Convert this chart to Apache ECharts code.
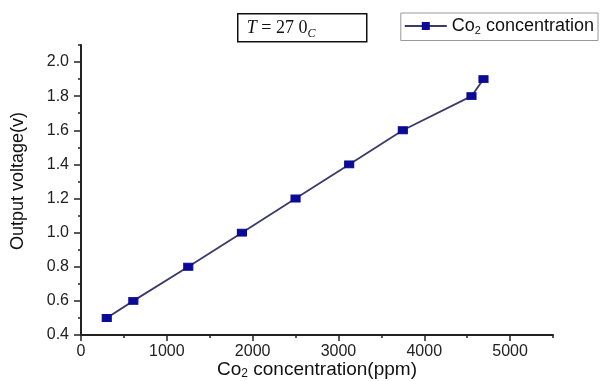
<!DOCTYPE html>
<html><head><meta charset="utf-8">
<script src="https://cdn.jsdelivr.net/npm/echarts@6/dist/echarts.min.js"></script>
<style>html,body{margin:0;padding:0;background:#fff}#c{width:601px;height:381px}</style>
</head><body><div id="c"></div>
<script>
const co2 = [300, 610, 1250, 1875, 2500, 3125, 3750, 4550, 4690];
const voltage = [0.5, 0.6, 0.8, 1.0, 1.2, 1.4, 1.6, 1.8, 1.9];
const seriesName = 'Co2 concentration';
const xTicks = [0, 1000, 2000, 3000, 4000, 5000];
const xMinorTicks = [500, 1500, 2500, 3500, 4500, 5500];
const yTicks = [0.4, 0.6, 0.8, 1.0, 1.2, 1.4, 1.6, 1.8, 2.0];
const yMinorTicks = [0.5, 0.7, 0.9, 1.1, 1.3, 1.5, 1.7, 1.9, 2.1];

const chart = echarts.init(document.getElementById('c'), null, {renderer: 'canvas'});
const font = 'Liberation Sans, Arial, sans-serif';
const tickColor = '#222';
chart.setOption({
  animation: false,
  backgroundColor: '#fff',
  grid: {left: 81, right: 48, top: 45, bottom: 46, outerBoundsMode: 'none'},
  legend: {
    show: true, right: 3, top: 13,
    data: [seriesName],
    borderColor: '#999', borderWidth: 1, padding: [4, 4, 4, 3],
    itemWidth: 42, itemHeight: 10, itemGap: 4,
    formatter: () => 'Co{sub|2} concentration',
    textStyle: {fontFamily: font, fontSize: 18, color: '#111',
      rich: {sub: {fontSize: 11, padding: [10, 0, 0, 0], fontFamily: font, color: '#111'}}}
  },
  xAxis: [{
    type: 'value', min: 0, max: 5500, position: 'bottom',
    axisLine: {show: true, onZero: false, lineStyle: {color: tickColor, width: 2}},
    splitLine: {show: false},
    axisTick: {show: true, customValues: xTicks, length: 6, lineStyle: {color: tickColor, width: 1.5}},
    axisLabel: {customValues: xTicks, formatter: v => String(v), color: '#222', fontFamily: font, fontSize: 16, margin: 9},
    name: 'Co{sub|2} concentration(ppm)', nameLocation: 'middle', nameGap: 25, nameMoveOverlap: false,
    nameTextStyle: {fontFamily: font, fontSize: 19, color: '#111', verticalAlign: 'top',
      rich: {sub: {fontSize: 12, padding: [8, 0, 0, 0], fontFamily: font, color: '#111'}}}
  }, {
    type: 'value', min: 0, max: 5500, position: 'bottom', offset: 0,
    axisLine: {show: false},
    splitLine: {show: false},
    axisTick: {show: true, customValues: xMinorTicks, length: 3, lineStyle: {color: tickColor, width: 1.5}},
    axisLabel: {show: false}
  }],
  yAxis: [{
    type: 'value', min: 0.4, max: 2.1, position: 'left',
    axisLine: {show: true, onZero: false, lineStyle: {color: tickColor, width: 2}},
    splitLine: {show: false},
    axisTick: {show: true, customValues: yTicks, length: 7, lineStyle: {color: tickColor, width: 1.5}},
    axisLabel: {customValues: yTicks, formatter: v => v.toFixed(1), color: '#222', fontFamily: font, fontSize: 16, margin: 12},
    name: 'Output voltage(v)', nameLocation: 'middle', nameGap: 54, nameMoveOverlap: false,
    nameTextStyle: {fontFamily: font, fontSize: 18, color: '#111', padding: [0, 0, 0, 18]}
  }, {
    type: 'value', min: 0.4, max: 2.1, position: 'left', offset: 0,
    axisLine: {show: false},
    splitLine: {show: false},
    axisTick: {show: true, customValues: yMinorTicks, length: 3, lineStyle: {color: tickColor, width: 1.5}},
    axisLabel: {show: false}
  }],
  graphic: [{
    type: 'group', left: 237, top: 13,
    children: [
      {type: 'rect', shape: {x: 0, y: 0, width: 129, height: 28}, style: {fill: '#fff', stroke: '#111', lineWidth: 1.5}},
      {type: 'text', x: 9, y: 4, style: {
        text: '{it|T}{n| = 27 0}{s|C}',
        rich: {
          it: {fontFamily: 'Liberation Serif, serif', fontStyle: 'italic', fontSize: 18, fill: '#111'},
          n: {fontFamily: 'Liberation Serif, serif', fontSize: 18, fill: '#111'},
          s: {fontFamily: 'Liberation Serif, serif', fontStyle: 'italic', fontSize: 12, fill: '#111', padding: [10, 0, 0, 0]}
        }}}
    ]
  }],
  series: [{
    name: seriesName, type: 'line', xAxisIndex: 0, yAxisIndex: 0,
    data: co2.map((x, i) => [x, voltage[i]]),
    symbol: 'rect', symbolSize: [9, 7],
    lineStyle: {color: '#3c3a6a', width: 1.8},
    itemStyle: {color: '#0a0a96', borderColor: '#0a0a96'}
  }]
});
</script></body></html>
